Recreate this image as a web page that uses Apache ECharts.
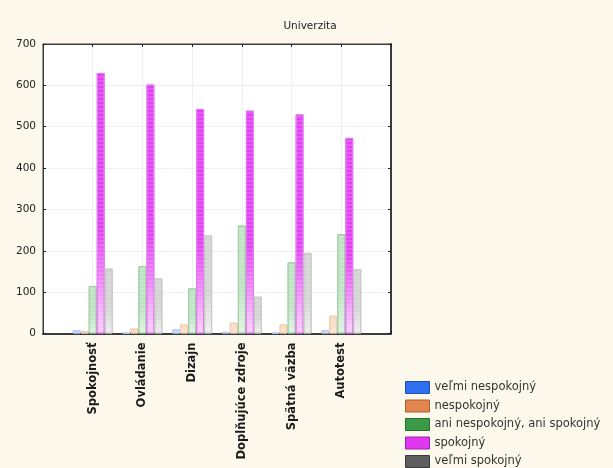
<!DOCTYPE html>
<html>
<head>
<meta charset="utf-8">
<script src="https://cdn.jsdelivr.net/npm/echarts@6/dist/echarts.min.js"></script>
<style>
html,body{margin:0;padding:0;background:#fdf8ec;}
#c{width:613px;height:468px;}
</style>
</head>
<body>
<div id="c"></div>
<script>
var categories = ['Spokojnosť', 'Ovládanie', 'Dizajn', 'Doplňujúce zdroje', 'Spätná väzba', 'Autotest'];
var seriesNames = ['veľmi nespokojný', 'nespokojný', 'ani nespokojný, ani spokojný', 'spokojný', 'veľmi spokojný'];
var velmiNespokojny = [8, 2, 10, 4, 2, 8];
var nespokojny = [6, 12, 22, 26, 22, 43];
var aniAni = [115, 163, 109, 261, 172, 240];
var spokojny = [630, 602, 543, 539, 530, 473];
var velmiSpokojny = [157, 133, 237, 89, 195, 156];
var yTicks = [0, 100, 200, 300, 400, 500, 600, 700];

var values = [velmiNespokojny, nespokojny, aniAni, spokojny, velmiSpokojny];
var legendColors = ['#2f6ff2', '#e0864e', '#3a9a48', '#e038f0', '#5e5e5e'];
var legendBorders = ['#1e4fb0', '#a85e30', '#22702e', '#a020b0', '#3a3a3a'];
var barTop = ['#cbdcf8', '#f8dcc4', '#bfe3c2', '#e33ff2', '#d4d4d4'];
var barBottom = ['#e6eefc', '#fcece0', '#e2f2e3', '#f8d2fb', '#f0f0f0'];
var barBorder = ['#b8cdf2', '#f0cdb0', '#9fd0a6', '#e27af2', '#c8c8c8'];
var FONT = 'DejaVu Sans';

function grad(i) {
  return new echarts.graphic.LinearGradient(0, 0, 0, 1, [
    {offset: 0, color: barTop[i]}, {offset: 0.6, color: barTop[i]}, {offset: 1, color: barBottom[i]}
  ]);
}

var series = seriesNames.map(function (name, i) {
  return {
    name: name,
    type: 'bar',
    barWidth: 8,
    barGap: '0%',
    data: categories.map(function (c, k) { return [k + 1, values[i][k]]; }),
    itemStyle: {
      color: grad(i),
      borderColor: barBorder[i],
      borderWidth: 1,
      decal: {
        symbol: 'rect',
        symbolSize: 1,
        dashArrayX: [1, 0],
        dashArrayY: [2, 2],
        rotation: 0,
        color: 'rgba(255,255,255,0.14)'
      }
    },
    emphasis: {disabled: true}
  };
});

var tick = {show: true, inside: true, length: 3, lineStyle: {color: '#222'}};

var chart = echarts.init(document.getElementById('c'), null, {renderer: 'canvas'});
chart.setOption({
  animation: false,
  backgroundColor: '#fdf8ec',
  title: {
    text: 'Univerzita',
    left: 310, top: 21, textAlign: 'center', padding: 0,
    textStyle: {fontFamily: FONT, fontSize: 10.5, fontWeight: 'normal', color: '#222'}
  },
  legend: {
    orient: 'vertical',
    left: 405, top: 381, padding: 0,
    height: 100,
    itemWidth: 24, itemHeight: 12, itemGap: 5.5,
    textStyle: {fontFamily: FONT, fontSize: 11.5, color: '#333'},
    data: seriesNames.map(function (n, i) {
      return {name: n, icon: 'rect', itemStyle: {color: legendColors[i], borderColor: legendBorders[i], borderWidth: 1, decal: 'none'}};
    })
  },
  grid: {
    left: 43, top: 44, right: 222, bottom: 134.5,
    show: true, backgroundColor: '#ffffff', borderColor: '#3c3c3c', borderWidth: 1
  },
  xAxis: [{
    type: 'value', min: 0, max: 7, interval: 1, position: 'bottom',
    axisLine: {show: true, onZero: false, lineStyle: {color: '#3c3c3c', width: 2}},
    axisTick: tick,
    splitLine: {show: true, lineStyle: {color: '#f0f0f0'}},
    axisLabel: {
      rotate: 90, margin: 9,
      fontFamily: FONT, fontSize: 11.5, fontWeight: 'bold', color: '#1a1a1a',
      showMinLabel: true, showMaxLabel: true,
      formatter: function (v) { return categories[v - 1] || ''; }
    }
  }, {
    type: 'value', min: 0, max: 7, interval: 1, position: 'top',
    axisLine: {show: true, onZero: false, lineStyle: {color: '#3c3c3c', width: 1}},
    axisTick: tick,
    splitLine: {show: false},
    axisLabel: {show: false}
  }],
  yAxis: [{
    type: 'value', min: 0, max: 700, interval: 100, position: 'left',
    axisLine: {show: true, onZero: false, lineStyle: {color: '#3c3c3c', width: 1}},
    axisTick: tick,
    splitLine: {show: true, lineStyle: {color: '#f0f0f0'}},
    axisLabel: {
      margin: 7, fontFamily: FONT, fontSize: 10.5, color: '#222',
      formatter: function (v) { return yTicks.indexOf(v) >= 0 ? String(v) : ''; }
    }
  }, {
    type: 'value', min: 0, max: 700, interval: 100, position: 'right',
    axisLine: {show: true, onZero: false, lineStyle: {color: '#3c3c3c', width: 2}},
    axisTick: tick,
    splitLine: {show: false},
    axisLabel: {show: false}
  }],
  series: series
});
</script>
</body>
</html>
